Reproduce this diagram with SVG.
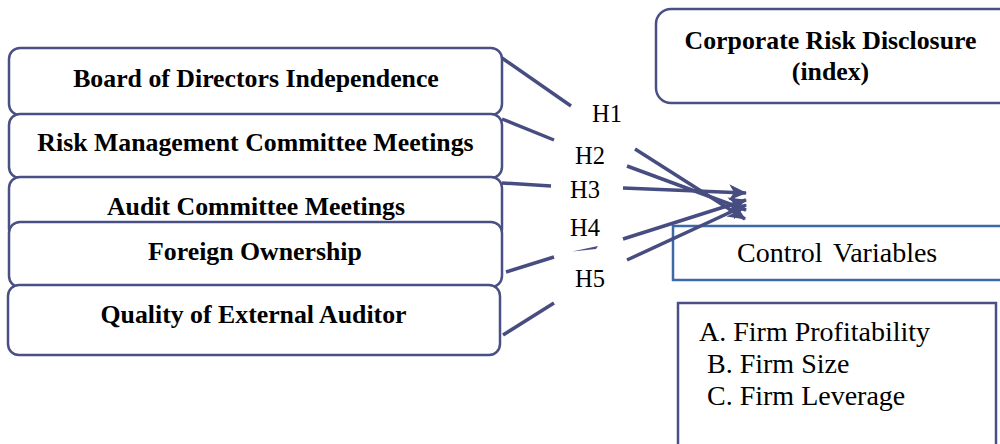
<svg xmlns="http://www.w3.org/2000/svg" width="1000" height="444" viewBox="0 0 1000 444">
  <style>
    .box { fill: #ffffff; stroke: #4a5084; stroke-width: 2.5; }
    .cv { fill: #ffffff; stroke: #3f68a6; stroke-width: 2.5; }
    .lbl { font-family: "Liberation Serif", "Times New Roman", serif; font-weight: bold; font-size: 25.8px; fill: #000; text-anchor: middle; }
    .reg { font-family: "Liberation Serif", "Times New Roman", serif; font-size: 28px; fill: #000; }
    .hyp { font-family: "Liberation Serif", "Times New Roman", serif; font-size: 24.5px; fill: #000; }
    .ln { stroke: #474d80; stroke-width: 3.5; fill: none; stroke-linecap: butt; }
  </style>
  <defs>
    <marker id="arrow" markerUnits="userSpaceOnUse" markerWidth="18" markerHeight="16" refX="17" refY="8" orient="auto">
      <path d="M0,0 L18,8 L0,16 L5,8 Z" fill="#474d80"/>
    </marker>
  </defs>
  <rect width="1000" height="444" fill="#ffffff"/>

  <!-- independent variables, stacked so each later box overlaps the previous one -->
  <g id="board-independence">
    <rect class="box" x="9" y="48" width="493" height="67" rx="11"/>
    <text class="lbl" x="256" y="87">Board of Directors Independence</text>
  </g>
  <g id="risk-committee-meetings">
    <rect class="box" x="9" y="114" width="493" height="64" rx="11"/>
    <text class="lbl" x="255.5" y="151">Risk Management Committee Meetings</text>
  </g>
  <g id="audit-committee-meetings">
    <rect class="box" x="9" y="177" width="493" height="63" rx="11"/>
    <text class="lbl" x="256" y="215">Audit Committee Meetings</text>
  </g>
  <g id="foreign-ownership">
    <rect class="box" x="9" y="222" width="493" height="65" rx="11"/>
    <text class="lbl" x="255" y="260">Foreign Ownership</text>
  </g>
  <g id="external-auditor-quality">
    <rect class="box" x="8" y="285" width="492" height="70" rx="11"/>
    <text class="lbl" x="253.5" y="323">Quality of External Auditor</text>
  </g>

  <!-- dependent variable -->
  <g id="risk-disclosure">
    <rect class="box" x="656" y="9" width="360" height="94" rx="15"/>
    <text class="lbl" x="830.5" y="49">Corporate Risk Disclosure</text>
    <text class="lbl" x="830.5" y="80">(index)</text>
  </g>

  <!-- controls -->
  <g id="control-variables">
    <rect class="cv" x="673" y="226" width="340" height="54"/>
    <text class="reg" x="737" y="262" word-spacing="4">Control Variables</text>
  </g>
  <g id="control-list">
    <rect class="box" x="678" y="303" width="318" height="160"/>
    <text class="reg" x="699" y="341">A. Firm Profitability</text>
    <text class="reg" x="707" y="373">B. Firm Size</text>
    <text class="reg" x="707" y="405">C. Firm Leverage</text>
  </g>

  <!-- hypothesis paths -->
  <g id="connectors">
    <line class="ln" x1="502" y1="58" x2="571" y2="106"/>
    <line class="ln" x1="635" y1="149" x2="745" y2="219" marker-end="url(#arrow)"/>

    <line class="ln" x1="502" y1="119" x2="554" y2="140"/>
    <line class="ln" x1="627" y1="166" x2="746" y2="210" marker-end="url(#arrow)"/>

    <line class="ln" x1="502" y1="183" x2="551" y2="186"/>
    <line class="ln" x1="623" y1="188" x2="746" y2="193" marker-end="url(#arrow)"/>

    <line class="ln" x1="506" y1="272" x2="554" y2="257"/>
    <path d="M572,251.5 L598,246 L596,249 Z" fill="#474d80"/>
    <line class="ln" x1="623" y1="239" x2="746" y2="200" marker-end="url(#arrow)"/>

    <line class="ln" x1="503" y1="335" x2="554" y2="303"/>
    <line class="ln" x1="627" y1="260" x2="746" y2="205" marker-end="url(#arrow)"/>
  </g>

  <!-- hypothesis labels -->
  <g id="hypothesis-labels">
    <text class="hyp" x="592" y="122">H1</text>
    <text class="hyp" x="575" y="164">H2</text>
    <text class="hyp" x="570" y="198">H3</text>
    <text class="hyp" x="570" y="236">H4</text>
    <text class="hyp" x="575" y="287">H5</text>
  </g>
</svg>
